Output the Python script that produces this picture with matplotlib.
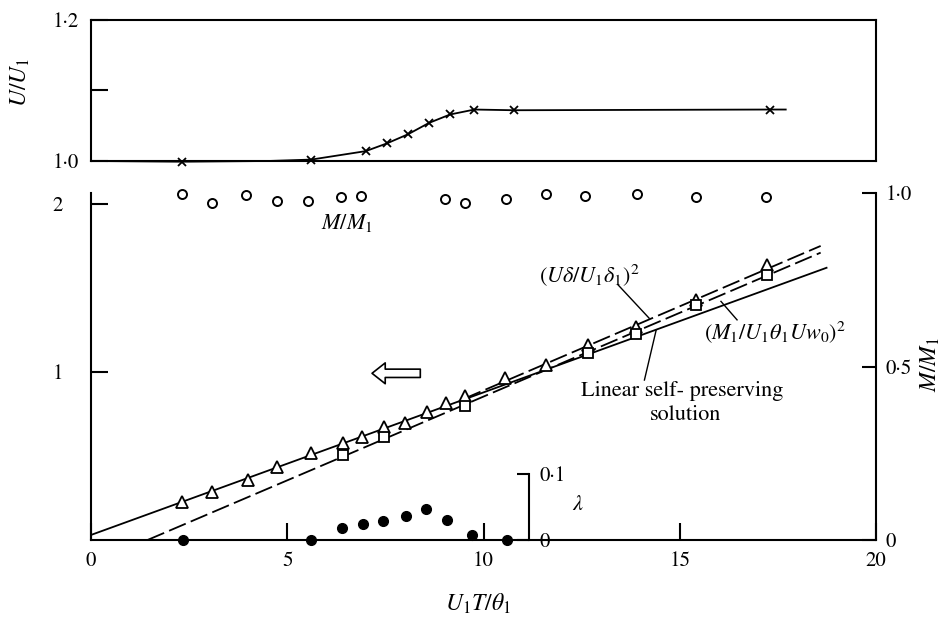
import matplotlib
matplotlib.use('Agg')
import matplotlib.pyplot as plt

plt.rcParams['font.family'] = ['STIXGeneral', 'DejaVu Serif']
plt.rcParams['mathtext.fontset'] = 'stix'

# ---------------- data ----------------
# top panel: U/U1 (crosses)
u_x = [2.31, 5.61, 7.00, 7.54, 8.08, 8.61, 9.15, 9.77, 10.77, 17.30]
u_y = [0.999, 1.002, 1.014, 1.025, 1.038, 1.054, 1.066, 1.073, 1.072, 1.073]
u_line_x = [0.0, 2.31, 4.5, 5.61, 7.00, 7.54, 8.08, 8.61, 9.15, 9.77, 10.77, 17.30, 17.70]
u_line_y = [1.0, 0.999, 1.0, 1.002, 1.014, 1.025, 1.038, 1.054, 1.066, 1.073, 1.072, 1.073, 1.073]

# M/M1 (open circles, right axis)
m_x = [2.31, 3.09, 3.95, 4.73, 5.53, 6.38, 6.89, 9.03, 9.52, 10.58, 11.60, 12.58, 13.90, 15.41, 17.20]
m_y = [0.997, 0.972, 0.994, 0.978, 0.978, 0.989, 0.992, 0.983, 0.970, 0.983, 0.997, 0.992, 0.997, 0.988, 0.989]

# (U delta / U1 delta1)^2 (triangles)
tri_x = [2.33, 3.08, 3.99, 4.75, 5.60, 6.41, 6.90, 7.47, 8.01, 8.56, 9.05, 9.54,
         10.56, 11.60, 12.66, 13.89, 15.42, 17.23]
tri_y = [0.228, 0.288, 0.357, 0.433, 0.516, 0.576, 0.611, 0.675, 0.698, 0.764, 0.817, 0.857,
         0.962, 1.042, 1.161, 1.270, 1.429, 1.637]

# (M1/U1 theta1 U w0)^2 (squares)
sq_x = [6.41, 7.47, 9.54, 12.66, 13.89, 15.42, 17.23]
sq_y = [0.506, 0.615, 0.798, 1.111, 1.226, 1.399, 1.577]

# lambda (filled dots)
lam_x = [2.35, 5.60, 6.39, 6.94, 7.45, 8.03, 8.54, 9.07, 9.71, 10.60]
lam_y = [0.0, 0.0, 0.018, 0.024, 0.029, 0.037, 0.047, 0.031, 0.008, 0.0]

# lines
solid_x = [0.0, 18.74]
solid_y = [0.03, 1.62]
delta_x = [9.5, 18.59]
delta_y = [0.84, 1.75]
mom_x = [1.44, 18.59]
mom_y = [0.0, 1.71]

x_ticks = [0, 5, 10, 15, 20]
x_ticklabels = ['0', '5', '10', '15', '20']

# ---------------- figure ----------------
W, H = 942, 617
fig = plt.figure(figsize=(W / 100, H / 100), dpi=100)

def fx(px):
    return px / W

def fy(py):
    return 1 - py / H

L, R = 91, 876
ax_t = fig.add_axes([fx(L), fy(161), fx(R) - fx(L), fy(20) - fy(161)])
ax = fig.add_axes([fx(L), fy(540), fx(R) - fx(L), fy(193) - fy(540)])

lw_sp = 1.5
fs = 15

# ---- top panel ----
ax_t.set_xlim(0, 20)
ax_t.set_ylim(1.0, 1.2)
for s in ax_t.spines.values():
    s.set_linewidth(lw_sp)
ax_t.set_xticks([])
ax_t.set_yticks([1.0, 1.1, 1.2])
ax_t.set_yticklabels(['1·0', '', '1·2'])
ax_t.tick_params(axis='y', direction='in', length=12, width=lw_sp, pad=9, labelsize=fs)
ax_t.plot(u_line_x, u_line_y, color='black', lw=1.3, clip_on=False)
ax_t.plot(u_x, u_y, ls='none', marker='x', color='black', ms=6, mew=1.3, clip_on=False)

# ---- bottom panel ----
ax.set_xlim(0, 20)
ax.set_ylim(0, 2.065)
ax.spines['top'].set_visible(False)
ax.spines['right'].set_visible(False)
ax.spines['left'].set_linewidth(lw_sp)
ax.spines['bottom'].set_linewidth(lw_sp)
ax.set_xticks(x_ticks)
ax.set_xticklabels(x_ticklabels)
ax.tick_params(axis='x', direction='in', length=12, width=lw_sp, pad=8, labelsize=fs)
ax.set_yticks([1, 2])
ax.set_yticklabels(['1', '2'])
ax.tick_params(axis='y', direction='in', length=12, width=lw_sp, pad=20, labelsize=fs)

ax_r = ax.twinx()
ax_r.set_ylim(0, 1.0)
for k in ['top', 'left', 'bottom']:
    ax_r.spines[k].set_visible(False)
ax_r.spines['right'].set_linewidth(lw_sp)
ax_r.set_yticks([0, 0.5, 1.0])
ax_r.set_yticklabels(['0', '0·5', '1·0'])
ax_r.tick_params(axis='y', direction='in', length=10, width=lw_sp, pad=7, labelsize=fs)

ax_l = ax.twinx()
ax_l.set_ylim(0, 0.526)
for k in ['top', 'left', 'bottom']:
    ax_l.spines[k].set_visible(False)
ax_l.spines['right'].set_position(('data', 11.15))
ax_l.spines['right'].set_bounds(0, 0.1)
ax_l.spines['right'].set_linewidth(lw_sp)
ax_l.set_yticks([0, 0.1])
ax_l.set_yticklabels(['0', '0·1'])
ax_l.tick_params(axis='y', direction='in', length=9, width=lw_sp, pad=8, labelsize=fs)

# lines
ax.plot(solid_x, solid_y, color='black', lw=1.3)
ax.plot(delta_x, delta_y, color='black', lw=1.3, ls=(0, (10, 3)))
ax.plot(mom_x, mom_y, color='black', lw=1.3, ls=(0, (10, 3)))

# markers
ax.plot(tri_x, tri_y, ls='none', marker='^', ms=8, mfc='white', mec='black', mew=1.3, zorder=5)
ax.plot(sq_x, sq_y, ls='none', marker='s', ms=6.5, mfc='white', mec='black', mew=1.3, zorder=5)
ax_r.plot(m_x, m_y, ls='none', marker='o', ms=6.5, mfc='white', mec='black', mew=1.4, clip_on=False)
ax_l.plot(lam_x, lam_y, ls='none', marker='o', ms=7, color='black', clip_on=False)

# annotations
ax.text(6.53, 1.887, r'$M/M_1$', fontsize=16, ha='center', va='center')
ax.text(12.7, 1.577, r'$(U\delta/U_1\delta_1)^2$', fontsize=16, ha='center', va='center')
ax.text(17.42, 1.24, r'$(M_1/U_1\theta_1 U w_0)^2$', fontsize=16, ha='center', va='center')
ax.text(15.05, 0.887, 'Linear self- preserving', fontsize=16, ha='center', va='center')
ax.text(15.15, 0.744, 'solution', fontsize=16, ha='center', va='center')
ax.text(12.4, 0.208, r'$\lambda$', fontsize=16, ha='center', va='center')

ax.plot([13.43, 14.22], [1.518, 1.32], color='black', lw=1.0)
ax.plot([16.46, 16.05], [1.31, 1.42], color='black', lw=1.0)
ax.plot([14.1, 14.4], [0.952, 1.25], color='black', lw=1.0)

ax.annotate('', xy=(7.16, 0.992), xytext=(8.39, 0.992),
            arrowprops=dict(arrowstyle='simple,head_length=0.95,head_width=1.5,tail_width=0.6',
                            fc='white', ec='black', lw=1.2, shrinkA=0, shrinkB=0,
                            mutation_scale=10))

# axis labels
fig.text(fx(478), fy(604), r'$U_1T/\theta_1$', fontsize=17, ha='center', va='center')
fig.text(fx(20), fy(82), r'$U/U_1$', fontsize=17, ha='center', va='center', rotation=90)
fig.text(fx(930), fy(365), r'$M/M_1$', fontsize=17, ha='center', va='center', rotation=90)

fig.savefig('out.png', dpi=100)
